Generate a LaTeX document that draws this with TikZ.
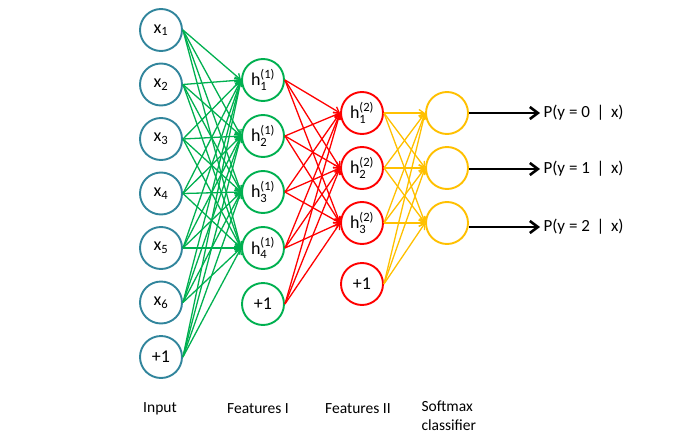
\documentclass[tikz,border=0pt]{standalone}
\usepackage{amsmath}
\usepackage{fontspec}
\setmainfont{Carlito}
\usetikzlibrary{arrows.meta}

\definecolor{inblue}{RGB}{49,133,156}
\definecolor{fgreen}{RGB}{0,176,80}
\definecolor{fred}{RGB}{255,0,0}
\definecolor{fgold}{RGB}{255,192,0}

\tikzset{
    unit/.style={circle, line width=1.9pt, minimum size=42pt, inner sep=0pt, fill=white,
        font=\fontsize{18}{20}\selectfont},
    inunit/.style={unit, draw=inblue},
    aunit/.style={unit, draw=fgreen},
    bunit/.style={unit, draw=fred},
    smunit/.style={unit, draw=fgold},
    wire/.style={line width=1.3pt, -{Straight Barb[length=5pt, width=7pt]}},
    outarrow/.style={line width=2.6pt, -{Straight Barb[length=8pt, width=12pt]}},
    outlabel/.style={anchor=west, font=\fontsize{17}{19}\selectfont},
    caption/.style={font=\fontsize{15.5}{19}\selectfont, align=left}
}

\newcommand{\hsub}[2]{h$^{\text{(#1)}}_{\text{#2}}$}

\begin{document}
\begin{tikzpicture}[x=1pt, y=-1pt]
        \useasboundingbox (0,0) rectangle (696,447);

        % Input layer
        \node[inunit] (in1) at (161,30) {x$_{\text{1}}$};
        \node[inunit] (in2) at (161,84.5) {x$_{\text{2}}$};
        \node[inunit] (in3) at (161,139) {x$_{\text{3}}$};
        \node[inunit] (in4) at (161,193.5) {x$_{\text{4}}$};
        \node[inunit] (in5) at (161,248) {x$_{\text{5}}$};
        \node[inunit] (in6) at (161,302.5) {x$_{\text{6}}$};
        \node[inunit] (in7) at (161,357) {+1};

        % Features I
        \node[aunit] (fa1) at (263,80) {\hsub{1}{1}};
        \node[aunit] (fa2) at (263,136) {\hsub{1}{2}};
        \node[aunit] (fa3) at (263,192) {\hsub{1}{3}};
        \node[aunit] (fa4) at (263,248) {\hsub{1}{4}};
        \node[aunit] (fa5) at (263,304) {+1};

        % Features II
        \node[bunit] (fb1) at (362,113) {\hsub{2}{1}};
        \node[bunit] (fb2) at (362,168) {\hsub{2}{2}};
        \node[bunit] (fb3) at (362,223) {\hsub{2}{3}};
        \node[bunit] (fb4) at (362,284) {+1};

        % Softmax units
        \node[smunit] (sm1) at (447,113) {};
        \node[smunit] (sm2) at (447,168) {};
        \node[smunit] (sm3) at (447,223) {};

        % Connections
        \foreach \i in {1,...,7}
            \foreach \j in {1,...,4}
                \draw[wire, fgreen] (in\i.east) -- (fa\j.west);
        \foreach \i in {1,...,5}
            \foreach \j in {1,...,3}
                \draw[wire, fred] (fa\i.east) -- (fb\j.west);
        \foreach \i in {1,...,4}
            \foreach \j in {1,...,3}
                \draw[wire, fgold] (fb\i.east) -- (sm\j.west);

        % Outputs
        \node[outlabel] (p0) at (540,113) {P(y = 0 \,|\, x)};
        \node[outlabel] (p1) at (540,169) {P(y = 1 \,|\, x)};
        \node[outlabel] (p2) at (540,227) {P(y = 2 \,|\, x)};
        \draw[outarrow] (sm1.east |- p0.west) -- (p0.west);
        \draw[outarrow] (sm2.east |- p1.west) -- (p1.west);
        \draw[outarrow] (sm3.east |- p2.west) -- (p2.west);

        % Layer captions
        \node[caption] (capin) at (160,409) {Input};
        \node[caption] (capa) at (258,409) {Features I};
        \node[caption] (capb) at (358,409) {Features II};
        \node[caption, anchor=north west] (capsm) at (418,397) {Softmax\\classifier};

    \end{tikzpicture}
\end{document}
